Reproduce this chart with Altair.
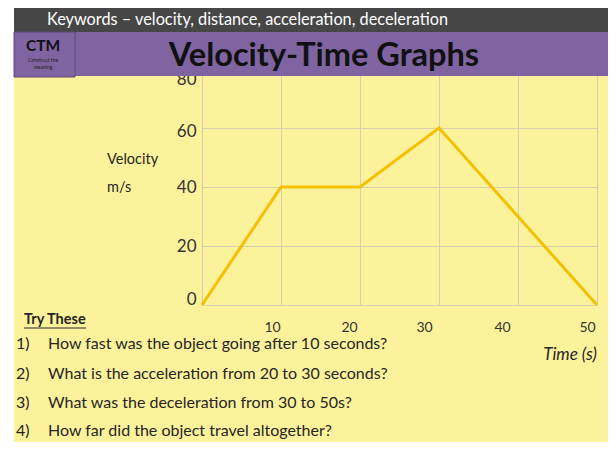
import altair as alt
import pandas as pd

# ---- data ----
time_s = [0, 10, 20, 30, 50]
velocity = [0, 40, 40, 60, 0]
x_ticks = [0, 10, 20, 30, 40, 50]
y_ticks = [0, 20, 40, 60, 80]
keywords = "Keywords \u2013 velocity, distance, acceleration, deceleration"
title_text = "Velocity-Time Graphs"
questions = [
    "How fast was the object going after 10 seconds?",
    "What is the acceleration from 20 to 30 seconds?",
    "What was the deceleration from 30 to 50s?",
    "How far did the object travel altogether?",
]

# page-pixel origin of the plot area
OX, OY = 202, 69
W, H = 395, 236
TOTAL_W, TOTAL_H = 600, 434


def px(X):
    return X - OX


def py(Y):
    return Y - OY


YELLOW = "#FDF29C"
PURPLE = "#8064A2"
DARK = "#464646"
LINE = "#F5C000"
GRID = "#D6D0AE"
FONT = "Lato"

one = pd.DataFrame({"a": [0]})
df = pd.DataFrame({"t": time_s, "v": velocity})


def rect(x1, x2, y1, y2, fill, stroke=None, sw=0):
    kw = dict(fill=fill)
    if stroke:
        kw.update(stroke=stroke, strokeWidth=sw)
    return alt.Chart(one).mark_rect(**kw).encode(
        x=alt.value(px(x1)), x2=alt.value(px(x2)),
        y=alt.value(py(y1)), y2=alt.value(py(y2)))


def txt(s, X, Y, size, weight="normal", style="normal", color="#262626", align="left"):
    return alt.Chart(one).mark_text(
        text=s, fontSize=size, fontWeight=weight, fontStyle=style, color=color,
        align=align, baseline="middle", font=FONT).encode(
        x=alt.value(px(X)), y=alt.value(py(Y)))


x_off = {"condition": [
    {"test": "datum.value == 10", "value": -9},
    {"test": "datum.value == 20", "value": -11},
    {"test": "datum.value == 30", "value": -15},
    {"test": "datum.value == 40", "value": -16},
    {"test": "datum.value == 50", "value": -10},
], "value": 0}
y_off = {"condition": [
    {"test": "datum.value == 80", "value": 10},
    {"test": "datum.value == 60", "value": 3},
    {"test": "datum.value == 0", "value": -6},
], "value": 0}

line = alt.Chart(df).mark_line(color=LINE, strokeWidth=3).encode(
    x=alt.X("t:Q", scale=alt.Scale(domain=[0, 50], nice=False),
            axis=alt.Axis(values=x_ticks, title=None, grid=True, ticks=False, tickSize=0,
                          labelExpr="datum.value == 0 ? '' : datum.label",
                          labelFlush=False, labelBound=False,
                          labelOffset=x_off, labelPadding=15, labelFontSize=14,
                          labelFont=FONT, labelColor="#333333", gridColor=GRID,
                          domainColor=GRID, zindex=0)),
    y=alt.Y("v:Q", scale=alt.Scale(domain=[0, 80], nice=False),
            axis=alt.Axis(values=y_ticks, title=None, grid=True, ticks=False, tickSize=0,
                          labelFlush=False,
                          labelOffset=y_off, labelPadding=6, labelFontSize=17,
                          labelFont=FONT, labelColor="#333333", gridColor=GRID,
                          domainColor=GRID, zindex=0)),
)

layers = [
    rect(8, 14, 8, 442, "#FFFFFF"),
    rect(14, 616, 8, 32, DARK),
    rect(14, 616, 32, 76, PURPLE),
    rect(14, 75, 32, 77, PURPLE, stroke="#5E4A7A", sw=1),
    line,
    txt(keywords, 47, 20, 16.3, color="#FFFFFF"),
    txt(title_text, 324, 56, 32.5, weight="bold", color="#111111", align="center"),
    txt("CTM", 43, 46, 15.5, weight="bold", color="#111111", align="center"),
    txt("Construct the", 43, 60, 5, color="#222222", align="center"),
    txt("meaning", 43, 67, 5, color="#222222", align="center"),
    txt("Velocity", 107, 160, 14.5),
    txt("m/s", 107, 188, 14.5),
    txt("Time (s)", 597, 355, 17, style="italic", align="right"),
    txt("Try These", 24, 320, 14.5, weight="bold"),
    alt.Chart(one).mark_rule(color="#262626", strokeWidth=1).encode(
        x=alt.value(px(24)), x2=alt.value(px(86)), y=alt.value(py(328))),
]
row_y = [344, 374, 403, 431]
for i, q in enumerate(questions):
    layers.append(txt(f"{i + 1})", 16, row_y[i], 16))
    layers.append(txt(q, 48, row_y[i], 16))

chart = alt.layer(*layers).properties(
    width=W, height=H,
    padding={"left": OX - 8, "top": OY - 8, "right": TOTAL_W - (OX - 8) - W,
             "bottom": TOTAL_H - (OY - 8) - H},
    autosize=alt.AutoSizeParams(type="none"),
    background=YELLOW,
).configure_view(stroke=None)

chart.save("out.html", embed_options={"renderer": "svg", "actions": False})
